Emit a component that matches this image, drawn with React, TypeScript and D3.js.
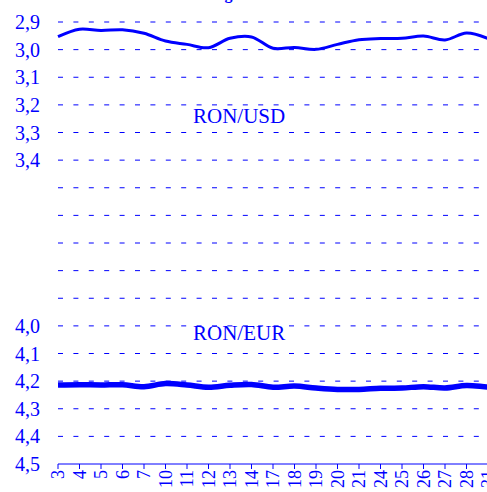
import { useRef, useEffect } from "react";
import * as d3 from "d3";

// trading days of the month
const days = ["3", "4", "5", "6", "7", "10", "11", "12", "13", "14", "17", "18", "19", "20", "21", "24", "25", "26", "27", "28", "31"];

// axis is inverted: 2,9 at the top, 4,5 at the bottom
const usd = [2.953, 2.926, 2.931, 2.928, 2.941, 2.969, 2.981, 2.993, 2.959, 2.954, 2.995, 2.992, 2.999, 2.981, 2.964, 2.96, 2.959, 2.951, 2.965, 2.94, 2.96];
const eur = [4.214, 4.213, 4.214, 4.213, 4.22, 4.209, 4.214, 4.222, 4.215, 4.212, 4.222, 4.218, 4.225, 4.23, 4.23, 4.226, 4.225, 4.22, 4.225, 4.216, 4.222];

const gridValues = [2.9, 3.0, 3.1, 3.2, 3.3, 3.4, 3.5, 3.6, 3.7, 3.8, 3.9, 4.0, 4.1, 4.2, 4.3, 4.4];
const tickLabels = [2.9, 3.0, 3.1, 3.2, 3.3, 3.4, 4.0, 4.1, 4.2, 4.3, 4.4, 4.5];

const width = 487;
const height = 492;
const blue = "#0000ff";
const serif = "Liberation Serif, Times New Roman, serif";

export default function App() {
  const svgRef = useRef<SVGSVGElement>(null);

  useEffect(() => {
    if (!svgRef.current) return;
    const svg = d3.select(svgRef.current);
    svg.selectAll("*").remove();

    const x = d3.scalePoint<string>().domain(days).range([58, 488]);
    const y = d3.scaleLinear().domain([2.9, 4.5]).range([22, 464]);

    // title, mostly above the visible area
    svg.append("text")
      .attr("x", 253)
      .attr("y", -1)
      .attr("text-anchor", "end")
      .attr("font-family", serif)
      .attr("font-weight", "bold")
      .attr("font-size", 16)
      .attr("fill", blue)
      .text("Cursul de schimb în august");

    // dashed grid
    svg.append("g")
      .selectAll("line")
      .data(gridValues)
      .join("line")
      .attr("x1", 58)
      .attr("x2", 481)
      .attr("y1", d => y(d))
      .attr("y2", d => y(d))
      .attr("stroke", blue)
      .attr("stroke-width", 1)
      .attr("stroke-dasharray", "5,10.4");

    // y labels
    svg.append("g")
      .selectAll("text")
      .data(tickLabels)
      .join("text")
      .attr("x", 40)
      .attr("y", d => y(d))
      .attr("dy", "0.35em")
      .attr("text-anchor", "end")
      .attr("font-family", serif)
      .attr("font-size", 20)
      .attr("fill", blue)
      .text(d => d3.format(".1f")(d).replace(".", ","));

    // x axis
    const xAxis = svg.append("g").attr("transform", `translate(0,${y(4.5)})`);
    xAxis.append("line")
      .attr("x1", 58).attr("x2", width)
      .attr("stroke", blue).attr("stroke-width", 1);
    xAxis.selectAll("line.tick")
      .data(days)
      .join("line")
      .attr("class", "tick")
      .attr("x1", d => x(d)!)
      .attr("x2", d => x(d)!)
      .attr("y1", 0)
      .attr("y2", 5)
      .attr("stroke", blue);
    xAxis.selectAll("text")
      .data(days)
      .join("text")
      .attr("transform", d => `translate(${x(d)},6) rotate(-90)`)
      .attr("dy", "0.35em")
      .attr("text-anchor", "end")
      .attr("font-family", serif)
      .attr("font-size", 18)
      .attr("fill", blue)
      .text(d => d);

    const line = d3.line<number>()
      .x((_, i) => x(days[i])!)
      .y(d => y(d))
      .curve(d3.curveCatmullRom.alpha(0.5));

    svg.append("path")
      .datum(usd)
      .attr("d", line)
      .attr("fill", "none")
      .attr("stroke", blue)
      .attr("stroke-width", 3);

    svg.append("path")
      .datum(eur)
      .attr("d", line)
      .attr("fill", "none")
      .attr("stroke", blue)
      .attr("stroke-width", 5.5);

    // series labels
    const labels = [
      { text: "RON/USD", yv: 3.266 },
      { text: "RON/EUR", yv: 4.05 },
    ];
    svg.append("g")
      .selectAll("text")
      .data(labels)
      .join("text")
      .attr("x", 193)
      .attr("y", d => y(d.yv))
      .attr("font-family", serif)
      .attr("font-size", 21)
      .attr("fill", blue)
      .text(d => d.text);
  }, []);

  return (
    <svg
      ref={svgRef}
      width={width}
      height={height}
      style={{ position: "fixed", left: 0, top: 0, background: "white" }}
    />
  );
}
